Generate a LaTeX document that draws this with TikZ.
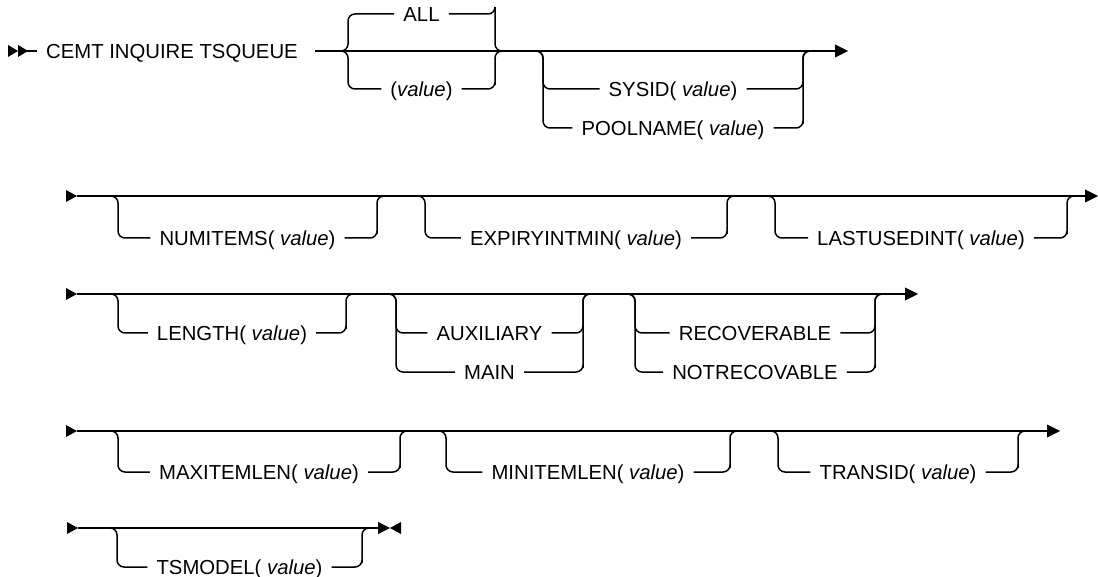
\documentclass[tikz,border=0pt]{standalone}
\usepackage{fontspec}
\setmainfont{Liberation Sans}
\tikzset{
  rail/.style={line width=1.5pt, rounded corners=7pt},
  opt/.style={font=\fontsize{20.3}{23}\selectfont, text height=14.5pt, text depth=0pt, inner ysep=0pt, inner xsep=9pt},
  tipfill/.style={fill=black}
}
% #1 name, #2 x of left bar, #3 x of right bar, #4 y of main line, #5 y of option, #6 text
\newcommand{\railopt}[6]{%
  \node[opt] (#1) at ({(#2+#3)/2},#5) {#6};
  \coordinate (#1-in) at ({#2-8},#4);
  \coordinate (#1-out) at ({#3+8},#4);
  \draw[rail] (#1-in) -| (#2,#5) -- (#1.west);
  \draw[rail] (#1.east) -| (#3,#5) |- (#1-out);
}
\begin{document}
\begin{tikzpicture}[x=1pt,y=-1pt]
\useasboundingbox (0,0) rectangle (1098,577);

% ---------- row 1 ----------
\coordinate (r1a) at (18,51);
\fill[tipfill] (8,45) -- (18,51) -- (8,57) -- cycle;
\fill[tipfill] (18,45) -- (28,51) -- (18,57) -- cycle;
\node[opt, anchor=west] (title) at (37,51) {CEMT INQUIRE TSQUEUE};
\draw[rail] (r1a) -- (title.west);
\coordinate (r1e) at (835,51);
\draw[rail] ([xshift=8pt]title.east) -- (r1e);
\fill[tipfill] (r1e) ++(0,-6.5) -- ++(13,6.5) -- ++(-13,6.5) -- cycle;
\railopt{all}{348}{495}{51}{14}{ALL}
\railopt{val}{348}{495}{51}{89}{(\textit{value})}
\railopt{sysid}{543}{803}{51}{89}{SYSID( \textit{value})}
\railopt{pool}{543}{803}{51}{128}{POOLNAME( \textit{value})}

% ---------- row 2 ----------
\coordinate (r2s) at (77,196);
\coordinate (r2e) at (1085,196);
\fill[tipfill] (66,190) -- (77,196) -- (66,202) -- cycle;
\draw[rail] (r2s) -- (r2e);
\fill[tipfill] (r2e) ++(0,-6.5) -- ++(13,6.5) -- ++(-13,6.5) -- cycle;
\railopt{numitems}{118}{377}{196}{238}{NUMITEMS( \textit{value})}
\railopt{expiry}{425}{727}{196}{238}{EXPIRYINTMIN( \textit{value})}
\railopt{lastused}{775}{1067}{196}{238}{LASTUSEDINT( \textit{value})}

% ---------- row 3 ----------
\coordinate (r3s) at (77,294);
\coordinate (r3e) at (905,294);
\fill[tipfill] (66,288) -- (77,294) -- (66,300) -- cycle;
\draw[rail] (r3s) -- (r3e);
\fill[tipfill] (r3e) ++(0,-6.5) -- ++(13,6.5) -- ++(-13,6.5) -- cycle;
\railopt{length}{118}{346}{294}{333}{LENGTH( \textit{value})}
\railopt{aux}{396}{583}{294}{333}{AUXILIARY}
\railopt{mainopt}{396}{583}{294}{372}{MAIN}
\railopt{recov}{635}{875}{294}{333}{RECOVERABLE}
\railopt{notrecov}{635}{875}{294}{372}{NOTRECOVABLE}

% ---------- row 4 ----------
\coordinate (r4s) at (77,431);
\coordinate (r4e) at (1047,431);
\fill[tipfill] (66,425) -- (77,431) -- (66,437) -- cycle;
\draw[rail] (r4s) -- (r4e);
\fill[tipfill] (r4e) ++(0,-6.5) -- ++(13,6.5) -- ++(-13,6.5) -- cycle;
\railopt{maxitem}{118}{400}{431}{472}{MAXITEMLEN( \textit{value})}
\railopt{minitem}{446}{730}{431}{472}{MINITEMLEN( \textit{value})}
\railopt{transid}{778}{1018}{431}{472}{TRANSID( \textit{value})}

% ---------- row 5 ----------
\coordinate (r5s) at (78,528);
\coordinate (r5e) at (378,528);
\fill[tipfill] (67,522) -- (78,528) -- (67,534) -- cycle;
\draw[rail] (r5s) -- (r5e);
\fill[tipfill] (r5e) ++(0,-6) -- ++(12,6) -- ++(-12,6) -- cycle;
\fill[tipfill] (401,522) -- (390,528) -- (401,534) -- cycle;
\railopt{tsmodel}{117}{362}{528}{567}{TSMODEL( \textit{value})}
\end{tikzpicture}
\end{document}
